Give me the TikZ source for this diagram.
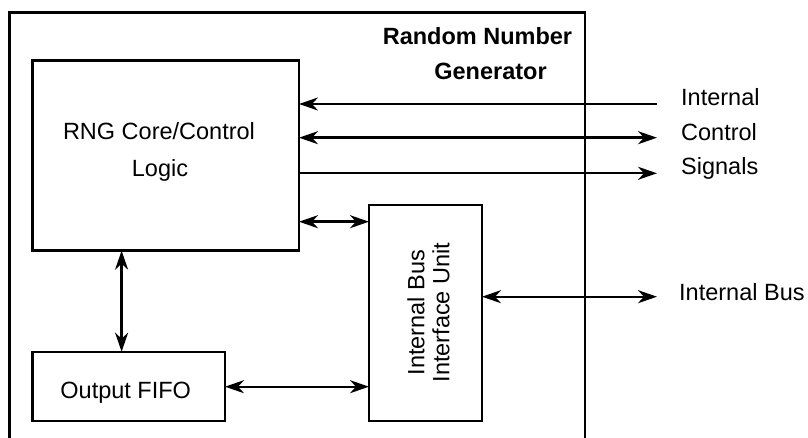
\documentclass[tikz,border=0pt]{standalone}
\usepackage{fontspec}
\setmainfont{Liberation Sans}
\usetikzlibrary{arrows.meta}
\begin{document}
\begin{tikzpicture}[x=1pt,y=-1pt,
  every node/.style={font=\fontsize{23.5}{25}\selectfont},
  blk/.style={draw,line width=2.4pt,inner sep=0pt,outer sep=0pt,rectangle},
  con/.style={line width=2.4pt},
  tip/.style={Stealth[length=19pt,width=13pt,inset=6pt]},
  arr/.style={con,-{Stealth[length=19pt,width=13pt,inset=6pt]}},
  barr/.style={con,{Stealth[length=19pt,width=13pt,inset=6pt]}-{Stealth[length=19pt,width=13pt,inset=6pt]}},
  lbl/.style={anchor=base west,inner sep=0pt}
]
\useasboundingbox (0,0) rectangle (808,438);
% outer frame (open at the bottom)
\draw[line width=2.4pt] (9.5,445) -- (9.5,12.5) -- (585,12.5) -- (585,445);
\node[anchor=base,inner sep=0pt,font=\fontsize{23.5}{25}\selectfont\bfseries] (t1) at (477.5,45) {Random Number};
\node[anchor=base,inner sep=0pt,font=\fontsize{23.5}{25}\selectfont\bfseries] (t2) at (490.5,80) {Generator};
% blocks
\node[blk,minimum width=266.5pt,minimum height=190pt] (rng) at (165.75,155.7) {};
\node[anchor=base,inner sep=0pt] (rngt1) at (159,139.5) {RNG Core/Control};
\node[anchor=base,inner sep=0pt] (rngt2) at (160,176.7) {Logic};
\node[blk,minimum width=192.5pt,minimum height=69pt] (fifo) at (128.75,386.2) {};
\node[anchor=base,inner sep=0pt] (fifot) at (125.7,398.4) {Output FIFO};
\node[blk,minimum width=113pt,minimum height=215.7pt] (ibiu) at (425.5,312.85) {};
\node[rotate=90,align=center,inner sep=0pt] (ibiut) at (428.5,312.5) {Internal Bus\\Interface Unit};
% free ends
\coordinate (e1) at (657,104);
\coordinate (e2) at (657,137.7);
\coordinate (e3) at (657,173.3);
\coordinate (e4) at (657,296.7);
\coordinate (y5) at (0,221.7);
\coordinate (y6) at (0,386.7);
\coordinate (x7) at (121.6,0);
% connectors
\draw[arr] (e1) -- (rng.east |- e1);
\draw[barr] (rng.east |- e2) -- (e2);
\draw[arr] (rng.east |- e3) -- (e3);
\draw[barr] (rng.east |- y5) -- (ibiu.west |- y5);
\draw[barr] (fifo.east |- y6) -- (ibiu.west |- y6);
\draw[barr] (ibiu.east |- e4) -- (e4);
\draw[barr] (rng.south -| x7) -- (fifo.north -| x7);
% labels
\node[lbl] (l1) at (681,106) {Internal};
\node[lbl] (l2) at (681,141) {Control};
\node[lbl] (l3) at (681,175) {Signals};
\node[lbl] (l4) at (679,300) {Internal Bus};
\end{tikzpicture}
\end{document}
